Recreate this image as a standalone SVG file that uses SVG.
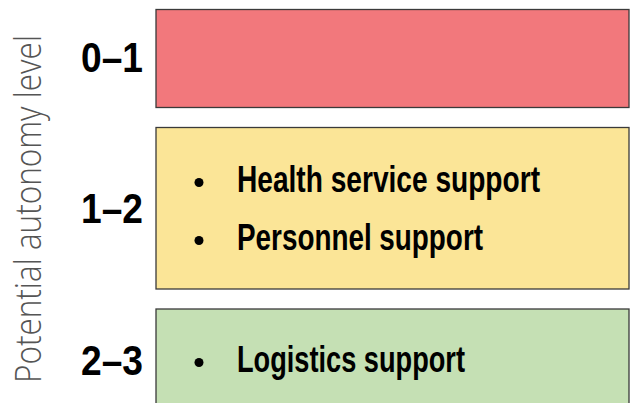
<svg xmlns="http://www.w3.org/2000/svg" width="632" height="403" viewBox="0 0 632 403">
<style>
.box{stroke:#3a3a3a;stroke-width:1.3}
.lvl{font-family:"Liberation Sans",Arial,sans-serif;font-weight:bold;font-size:42px;fill:#000}
.item{font-family:"Liberation Sans",Arial,sans-serif;font-weight:bold;font-size:37px;fill:#000}
.axis{font-family:"Open Sans","Lato",sans-serif;font-weight:300;font-size:37px;fill:#555}
.dot{fill:#000}
</style>
<rect width="632" height="403" fill="#fff"/>
<text class="axis" transform="translate(41,383) rotate(-90)" textLength="348" lengthAdjust="spacingAndGlyphs">Potential autonomy level</text>
<g id="level-0-1">
<rect class="box" x="156" y="9.5" width="473" height="98" fill="#F2787C"/>
<text class="lvl" x="81" y="72" textLength="62" lengthAdjust="spacingAndGlyphs">0–1</text>
</g>
<g id="level-1-2">
<rect class="box" x="156" y="127.5" width="473" height="161.5" fill="#FBE597"/>
<text class="lvl" x="81" y="223" textLength="62" lengthAdjust="spacingAndGlyphs">1–2</text>
<circle class="dot" cx="199" cy="182.5" r="4.5"/>
<text class="item" x="237" y="192" textLength="303" lengthAdjust="spacingAndGlyphs">Health service support</text>
<circle class="dot" cx="199" cy="240.5" r="4.5"/>
<text class="item" x="237" y="250" textLength="246" lengthAdjust="spacingAndGlyphs">Personnel support</text>
</g>
<g id="level-2-3">
<rect class="box" x="156" y="309" width="473" height="110" fill="#C5E0B4"/>
<text class="lvl" x="81" y="375" textLength="62" lengthAdjust="spacingAndGlyphs">2–3</text>
<circle class="dot" cx="199" cy="362.5" r="4.5"/>
<text class="item" x="237" y="372" textLength="228" lengthAdjust="spacingAndGlyphs">Logistics support</text>
</g>
<g id="connectors"/>
</svg>
